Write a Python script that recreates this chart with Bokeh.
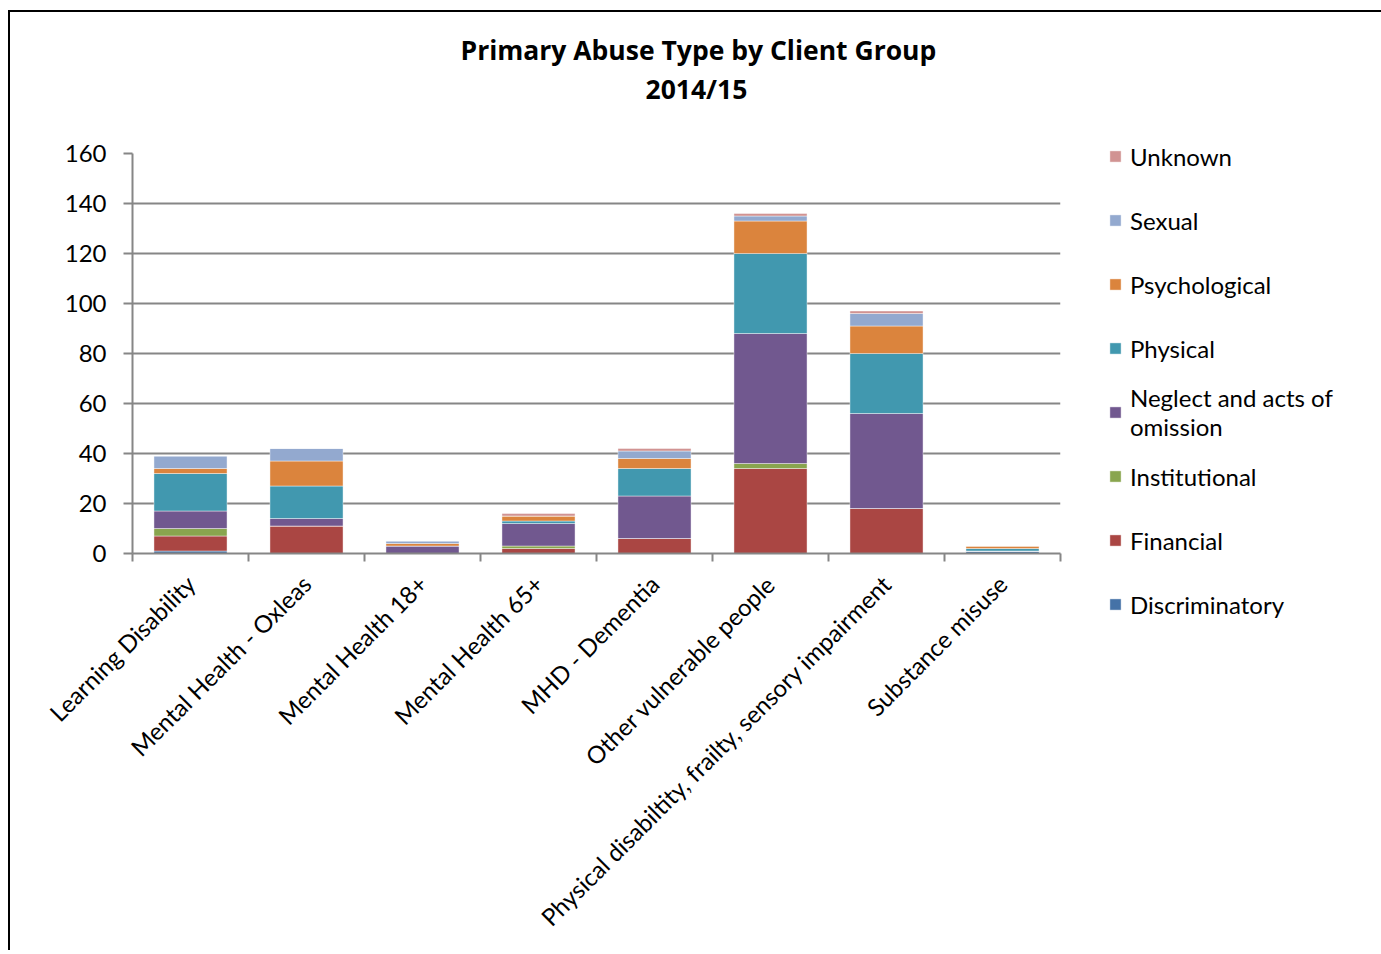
import math
from bokeh.plotting import figure
from bokeh.models import (Range1d, LinearAxis, FixedTicker, Legend, LegendItem, Title)
from bokeh.embed import file_html
from bokeh.resources import INLINE

categories = ["Learning Disability", "Mental Health - Oxleas", "Mental Health 18+",
              "Mental Health 65+", "MHD - Dementia", "Other vulnerable people",
              "Physical disabiltity, frailty, sensory impairment", "Substance misuse"]

discriminatory = [1, 0, 0, 0, 0, 0, 0, 1]
financial      = [6, 11, 0, 2, 6, 34, 18, 0]
institutional  = [3, 0, 0, 1, 0, 2, 0, 0]
neglect        = [7, 3, 3, 9, 17, 52, 38, 0]
physical       = [15, 13, 0, 1, 11, 32, 24, 1]
psychological  = [2, 10, 1, 2, 4, 13, 11, 1]
sexual         = [5, 5, 1, 0, 3, 2, 5, 0]
unknown        = [0, 0, 0, 1, 1, 1, 1, 0]

series_names = ["Discriminatory", "Financial", "Institutional", "Neglect and acts of\nomission",
                "Physical", "Psychological", "Sexual", "Unknown"]
series_values = [discriminatory, financial, institutional, neglect,
                 physical, psychological, sexual, unknown]
colors = ["#4572A7", "#AA4643", "#89A54E", "#71588F", "#4198AF", "#DB843D", "#93A9CF", "#D19392"]
y_ticks = [0, 20, 40, 60, 80, 100, 120, 140, 160]
title_line1 = "Primary Abuse Type by Client Group"
title_line2 = "2014/15"

FONT = "Lato"
TFONT = "Open Sans"
GREY = "#868686"

n = len(categories)
centers = [i + 0.5 for i in range(n)]
data = {"x": centers}
keys = []
for i, vals in enumerate(series_values):
    k = f"s{i}"
    keys.append(k)
    data[k] = vals

p = figure(x_range=Range1d(0, n), y_range=Range1d(0, 160),
           frame_width=928, frame_height=400,
           min_border_left=122, min_border_top=141, min_border_right=317, min_border_bottom=397,
           output_backend="svg", toolbar_location=None, x_axis_location=None,
           styles={"border-top": "2px solid black", "border-left": "2px solid black",
                   "margin-left": "8px", "margin-top": "10px"})
p.title.visible = False

renderers = p.vbar_stack(keys, x="x", width=0.63, color=colors, source=data,
                         line_color="white", line_width=0.6, line_alpha=0.7)

# tick-only axis at category boundaries
bounds = list(range(n + 1))
tick_axis = LinearAxis(ticker=FixedTicker(ticks=bounds),
                       major_label_overrides={b: "" for b in bounds},
                       major_label_text_font_size="1px", major_label_standoff=0,
                       major_tick_in=0, major_tick_out=8, minor_tick_line_color=None,
                       axis_line_color=GREY, axis_line_width=2,
                       major_tick_line_color=GREY, major_tick_line_width=2)
p.add_layout(tick_axis, "below")

label_axis = LinearAxis(ticker=FixedTicker(ticks=centers),
                        major_label_overrides={c: name for c, name in zip(centers, categories)},
                        major_label_orientation=math.pi / 4, axis_line_color=None,
                        major_tick_line_color=None, minor_tick_line_color=None,
                        major_label_standoff=12,
                        major_label_text_font=FONT, major_label_text_font_size="24px",
                        major_label_text_color="black")
p.add_layout(label_axis, "below")

p.yaxis.ticker = FixedTicker(ticks=y_ticks)
p.yaxis.major_tick_in = 0
p.yaxis.major_tick_out = 9
p.yaxis.minor_tick_line_color = None
p.yaxis.axis_line_color = GREY
p.yaxis.axis_line_width = 2
p.yaxis.major_tick_line_color = GREY
p.yaxis.major_tick_line_width = 2
p.yaxis.major_label_text_font = FONT
p.yaxis.major_label_text_font_size = "24px"
p.yaxis.major_label_text_color = "black"
p.yaxis.major_label_standoff = 17

p.ygrid.grid_line_color = GREY
p.ygrid.grid_line_width = 2
p.xgrid.grid_line_color = None
p.outline_line_color = None

title_style = dict(align="left", text_font=TFONT, text_font_size="26.5px",
                   text_font_style="bold", text_color="black")
line2 = None
if "padding" in Title.properties():
    try:
        line2 = Title(text=title_line2, offset=513, standoff=0,
                      padding=dict(left=0, top=0, right=0, bottom=47), **title_style)
        line1_standoff = 2
    except Exception:
        line2 = None
if line2 is None:
    line2 = Title(text=title_line2, offset=513, standoff=52, **title_style)
    line1_standoff = 0
p.add_layout(line2, "above")
p.add_layout(Title(text=title_line1, offset=328, standoff=line1_standoff, **title_style), "above")

items = [LegendItem(label=nm, renderers=[r]) for nm, r in zip(series_names, renderers)][::-1]
legend = Legend(items=items, location=(48, -83), margin=0, padding=0,
                border_line_color=None, background_fill_alpha=0,
                label_text_font=FONT, label_text_font_size="24px", label_text_color="black",
                label_text_line_height=1.33,
                glyph_width=14, glyph_height=14, label_standoff=8, spacing=0,
                label_height=64)
p.add_layout(legend, "right")

open("out.html", "w").write(file_html(p, INLINE))
